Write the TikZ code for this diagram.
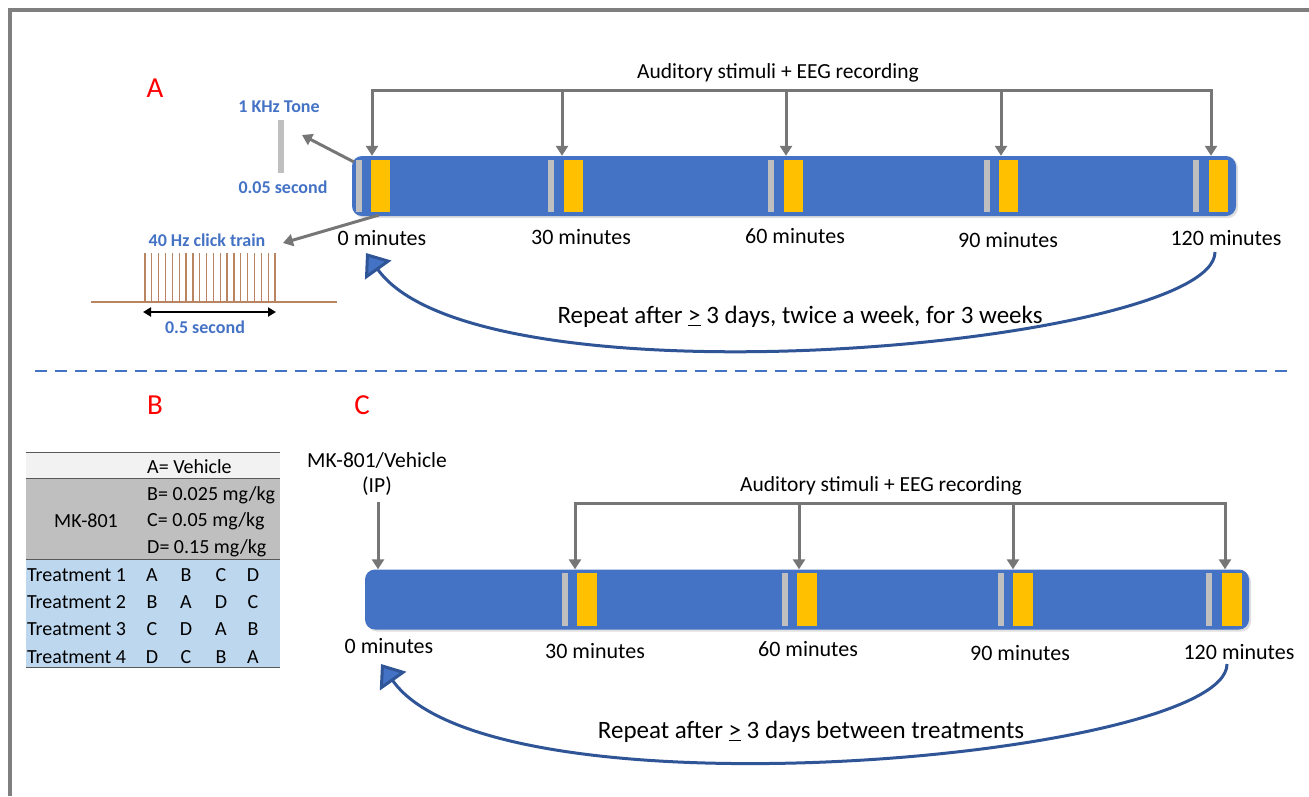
\documentclass[tikz,border=0pt]{standalone}
\usepackage{fontspec}
\setmainfont{Carlito}
\usetikzlibrary{arrows.meta,shadows,calc}
\definecolor{barblue}{HTML}{4472C4}
\definecolor{stimyellow}{HTML}{FFC000}
\definecolor{tonegray}{HTML}{BFBFBF}
\definecolor{arrowgray}{HTML}{767676}
\definecolor{curveblue}{HTML}{2F5597}
\definecolor{framegray}{HTML}{7F7F7F}
\definecolor{rowlight}{HTML}{F2F2F2}
\definecolor{rowgray}{HTML}{BFBFBF}
\definecolor{rowblue}{HTML}{BDD7EE}
\definecolor{clickbrown}{HTML}{B98462}
\definecolor{labred}{HTML}{FF0000}
\begin{document}
\begin{tikzpicture}[x=1pt,y=-1pt,
  bar/.style={fill=barblue, draw=none, rounded corners=10pt, inner sep=0pt,
    drop shadow={shadow xshift=2pt,shadow yshift=-2pt,opacity=0.25}},
  gline/.style={draw=arrowgray, line width=3pt, line cap=rect},
  garrow/.style={draw=arrowgray, line width=3pt, -{Triangle[length=10pt,width=12pt]}},
  carrow/.style={draw=curveblue, line width=3pt, -{Triangle[length=21pt,width=32pt,fill=barblue]}},
  timelbl/.style={font=\fontsize{22}{25}\selectfont, inner sep=0pt},
  titlelbl/.style={font=\fontsize{21.5}{25}\selectfont, inner sep=0pt},
  replbl/.style={font=\fontsize{25}{29}\selectfont, inner sep=0pt},
  bluelbl/.style={font=\fontsize{18}{21}\selectfont\bfseries, text=barblue, inner sep=0pt},
  panel/.style={font=\fontsize{29}{32}\selectfont, text=labred, inner sep=0pt},
  tbl/.style={font=\fontsize{20}{23}\selectfont, inner sep=0pt},
  tblL/.style={tbl, anchor=west},
]
\useasboundingbox (0,0) rectangle (1309,796);
% frame
\draw[framegray, line width=3.5pt] (10,796) -- (10,10) -- (1309,10);

% ================= Panel A =================
\node[panel] (labA) at (155,88) {A};
\node[bar, minimum width=884pt, minimum height=60pt] (barA) at (794,186) {};
\foreach \g/\y in {356/371, 548/564, 768/784, 984/999, 1193/1209}{
  \fill[tonegray] (\g,160) rectangle ++(6,52);
  \fill[stimyellow] (\y,160) rectangle ++(19,52);
}
\node[titlelbl] (titleA) at (778,73) {Auditory stimuli + EEG recording};
\coordinate (tA0) at (372,90);
\coordinate (tA1) at (562,90);
\coordinate (tA2) at (786,90);
\coordinate (tA3) at (1001,90);
\coordinate (tA4) at (1211,90);
\draw[gline] (tA0) -- (tA4);
\foreach \i in {0,...,4}{
  \draw[garrow] (tA\i) -- (tA\i |- barA.north);
}
\node[timelbl] (mA0) at (382,238) {0 minutes};
\node[timelbl] (mA1) at (581,237) {30 minutes};
\node[timelbl] (mA2) at (795,236) {60 minutes};
\node[timelbl] (mA3) at (1008,240) {90 minutes};
\node[timelbl] (mA4) at (1226,238) {120 minutes};

% tone
\node[bluelbl] (toneLbl) at (279,107) {1 KHz Tone};
\node[fill=tonegray, minimum width=6pt, minimum height=53pt, inner sep=0pt] (tone) at (281,146.5) {};
\node[bluelbl] (toneDur) at (283,187) {0.05 second};
\coordinate (toneStart) at (354,162);
\coordinate (toneEnd) at (302,135);
\draw[garrow] (toneStart) -- (toneEnd);

% click train
\node[bluelbl] (clickLbl) at (207,240) {40 Hz click train};
\coordinate (clickStart) at (379,215);
\coordinate (clickEnd) at (283,243);
\draw[garrow] (clickStart) -- (clickEnd);
\coordinate (baseL) at (91,302);
\coordinate (baseR) at (337,302);
\draw[clickbrown, line width=1.3pt] (baseL) -- (baseR);
\foreach \k in {0,...,19}{
  \draw[clickbrown, line width=1.3pt] ({145+\k*130/19},302) -- ({145+\k*130/19},253);
}
\coordinate (durL) at (143,312);
\coordinate (durR) at (276,312);
\draw[black, line width=2pt, {Triangle[length=8pt,width=9pt]}-{Triangle[length=8pt,width=9pt]}] (durL) -- (durR);
\node[bluelbl] (clickDur) at (205,327) {0.5 second};

% repeat curve A
\node[replbl] (repA) at (800,317) {Repeat after \underline{>} 3 days, twice a week, for 3 weeks};
\coordinate (cA0) at (1215,252);
\coordinate (cA1) at (366,253);
\draw[carrow] (cA0) .. controls (1215,345) and (480,412) .. (cA1);

% dashed separator
\draw[barblue, line width=2.5pt, dash pattern=on 12pt off 8pt] (35,371) -- (1290,371);

% ================= Panel B =================
\node[panel] (labB) at (155,405) {B};
\fill[rowlight] (26,452) rectangle (280,478);
\fill[rowgray] (26,478) rectangle (280,559);
\fill[rowblue] (26,559) rectangle (280,668);
\foreach \yy in {452,478,559,667}{
  \draw[black!65, line width=1pt] (26,\yy) -- (280,\yy);
}
\node[tblL] (vA) at (147,467) {A= Vehicle};
\node[tblL] (vB) at (147,495) {B= 0.025 mg/kg};
\node[tblL] (vC) at (147,521) {C= 0.05 mg/kg};
\node[tblL] (vD) at (147,548) {D= 0.15 mg/kg};
\node[tbl] (mk) at (86,521) {MK-801};
\foreach \r/\yy/\a/\b/\c/\d in {1/575/A/B/C/D, 2/602/B/A/D/C, 3/629/C/D/A/B, 4/657/D/C/B/A}{
  \node[tblL] (tr\r) at (27,\yy) {Treatment \r};
  \node[tbl] at (152,\yy) {\a};
  \node[tbl] at (186,\yy) {\b};
  \node[tbl] at (221,\yy) {\c};
  \node[tbl] at (253,\yy) {\d};
}

% ================= Panel C =================
\node[panel] (labC) at (362,405) {C};
\node[titlelbl] (mkv) at (377,460) {MK-801/Vehicle};
\node[titlelbl] (ip) at (377,486) {(IP)};
\node[bar, minimum width=884pt, minimum height=60pt] (barC) at (807,599.5) {};
\foreach \g/\y in {562/577, 782/797, 998/1013, 1206/1222}{
  \fill[tonegray] (\g,573) rectangle ++(6,53);
  \fill[stimyellow] (\y,573) rectangle ++(20,53);
}
\coordinate (inj) at (378,502);
\draw[garrow] (inj) -- (inj |- barC.north);
\node[titlelbl] (titleC) at (881,486) {Auditory stimuli + EEG recording};
\coordinate (tC0) at (575,503);
\coordinate (tC1) at (799,503);
\coordinate (tC2) at (1013,503);
\coordinate (tC3) at (1225,503);
\draw[gline] (tC0) -- (tC3);
\foreach \i in {0,...,3}{
  \draw[garrow] (tC\i) -- (tC\i |- barC.north);
}
\node[timelbl] (mC0) at (389,646) {0 minutes};
\node[timelbl] (mC1) at (595,651) {30 minutes};
\node[timelbl] (mC2) at (808,649) {60 minutes};
\node[timelbl] (mC3) at (1020,653) {90 minutes};
\node[timelbl] (mC4) at (1239,652) {120 minutes};

\node[replbl] (repC) at (811,732) {Repeat after \underline{>} 3 days between treatments};
\coordinate (cC0) at (1227,664);
\coordinate (cC1) at (381,664);
\draw[carrow] (cC0) .. controls (1227,757) and (494,824) .. (cC1);
\end{tikzpicture}
\end{document}
